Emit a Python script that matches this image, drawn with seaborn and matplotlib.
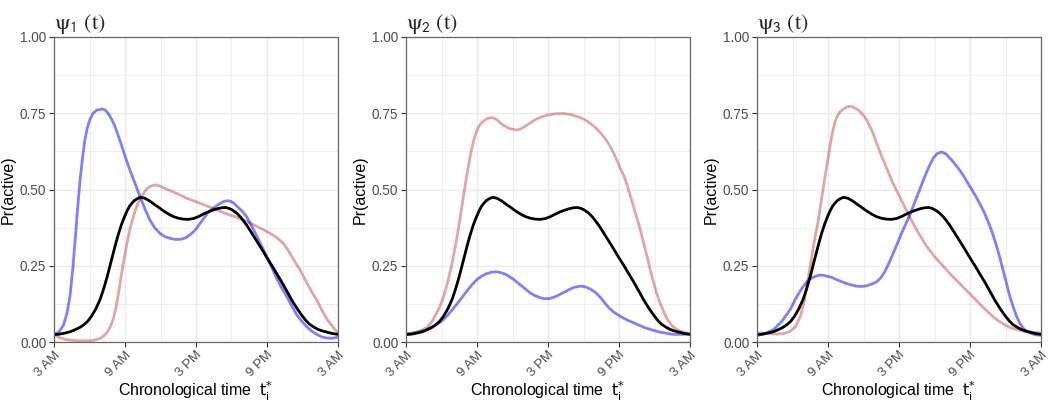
import matplotlib
matplotlib.use("Agg")
import matplotlib.pyplot as plt
import seaborn as sns
import pandas as pd
from matplotlib.ticker import FixedLocator

# ---------------- data (hours since midnight; 3 -> 3 AM, 27 -> 3 AM next day) ----------------
tick_hours = [3, 9, 15, 21, 27]
tick_labels = ["3 AM", "9 AM", "3 PM", "9 PM", "3 AM"]
minor_hours = [6, 12, 18, 24]
panel_titles = [r"$\mathrm{\psi}_{\mathsf{1}}\ \mathrm{(t)}$",
                r"$\mathrm{\psi}_{\mathsf{2}}\ \mathrm{(t)}$",
                r"$\mathrm{\psi}_{\mathsf{3}}\ \mathrm{(t)}$"]

# overall (black) curve, identical in all panels
overall_h = [3, 3.5, 4, 4.4, 4.77, 5.15, 5.5, 5.85, 6.18, 6.55, 6.9, 7.2, 7.5, 7.85, 8.2, 8.45,
             8.72, 8.95, 9.2, 9.4, 9.6, 9.8, 10.0, 10.2, 10.41, 10.7, 11.1, 11.45, 11.82, 12.25,
             12.7, 13.1, 13.5, 13.9, 14.35, 14.8, 15.2, 15.6, 16.04, 16.4, 16.8, 17.15, 17.5,
             17.8, 18.1, 18.45, 18.8, 19.25, 19.7, 20.1, 20.55, 21.0, 21.45, 21.85, 22.24, 22.7,
             23.1, 23.5, 23.93, 24.3, 24.6, 25.0, 25.34, 25.7, 26.1, 26.5, 27]
overall_v = [0.024, 0.026, 0.03, 0.034, 0.04, 0.047, 0.056, 0.068, 0.085, 0.11, 0.14, 0.175,
             0.215, 0.268, 0.32, 0.355, 0.387, 0.41, 0.432, 0.446, 0.456, 0.464, 0.469, 0.473,
             0.474, 0.471, 0.462, 0.452, 0.442, 0.43, 0.419, 0.411, 0.406, 0.403, 0.402, 0.405,
             0.411, 0.419, 0.427, 0.432, 0.437, 0.44, 0.441, 0.438, 0.432, 0.422, 0.408, 0.385,
             0.358, 0.333, 0.305, 0.276, 0.248, 0.222, 0.197, 0.165, 0.137, 0.112, 0.088, 0.07,
             0.058, 0.048, 0.041, 0.036, 0.032, 0.028, 0.025]

# panel 1
p1_blue_h = [3, 3.4, 3.8, 4.1, 4.35, 4.6, 4.8, 5.0, 5.2, 5.4, 5.6, 5.8, 6.04, 6.3, 6.6, 7.09,
             7.35, 7.6, 7.85, 8.1, 8.58, 9.0, 9.4, 9.85, 10.27, 10.7, 11.1, 11.5, 11.96, 12.4,
             12.9, 13.3, 13.79, 14.2, 14.6, 15.0, 15.34, 15.7, 16.05, 16.4, 16.75, 17.3, 17.6,
             17.88, 18.2, 18.6, 18.95, 19.29, 19.7, 20.1, 20.55, 20.98, 21.4, 21.8, 22.2, 22.67,
             23.1, 23.5, 23.9, 24.36, 24.8, 25.2, 25.6, 26.05, 26.5, 27]
p1_blue_v = [0.026, 0.032, 0.055, 0.095, 0.15, 0.245, 0.34, 0.44, 0.53, 0.60, 0.66, 0.70, 0.73,
             0.75, 0.76, 0.764, 0.76, 0.748, 0.732, 0.712, 0.66, 0.61, 0.565, 0.52, 0.477, 0.435,
             0.40, 0.375, 0.356, 0.345, 0.339, 0.336, 0.337, 0.343, 0.355, 0.37, 0.389, 0.408,
             0.425, 0.437, 0.447, 0.46, 0.463, 0.462, 0.455, 0.44, 0.427, 0.41, 0.38, 0.35,
             0.315, 0.28, 0.245, 0.21, 0.18, 0.149, 0.118, 0.09, 0.07, 0.05, 0.035, 0.025,
             0.017, 0.013, 0.012, 0.016]
p1_red_h = [3, 3.5, 4, 4.6, 5.2, 6.0, 6.5, 6.89, 7.2, 7.5, 7.75, 8.01, 8.25, 8.45, 8.65, 8.86,
            9.1, 9.3, 9.5, 9.7, 9.9, 10.1, 10.3, 10.55, 10.8, 11.0, 11.25, 11.54, 11.9, 12.4,
            12.9, 13.37, 14.3, 15.34, 16.5, 17.6, 18.5, 19.3, 20.2, 20.98, 21.4, 21.7, 22.05,
            22.38, 22.75, 23.1, 23.45, 23.8, 24.15, 24.5, 24.85, 25.2, 25.5, 25.8, 26.05, 26.33,
            26.65, 27]
p1_red_v = [0.024, 0.014, 0.008, 0.005, 0.004, 0.004, 0.007, 0.012, 0.02, 0.032, 0.05, 0.075,
            0.115, 0.16, 0.21, 0.258, 0.31, 0.35, 0.383, 0.41, 0.435, 0.455, 0.472, 0.487, 0.5,
            0.507, 0.512, 0.515, 0.512, 0.503, 0.495, 0.487, 0.47, 0.455, 0.437, 0.42, 0.408,
            0.395, 0.378, 0.362, 0.353, 0.345, 0.335, 0.323, 0.303, 0.28, 0.258, 0.236, 0.21,
            0.185, 0.16, 0.138, 0.115, 0.093, 0.076, 0.061, 0.045, 0.03]

# panel 2
p2_blue_h = [3, 3.5, 4, 4.4, 4.77, 5.15, 5.5, 5.85, 6.18, 6.55, 6.9, 7.25, 7.59, 7.95, 8.3,
             8.65, 9.0, 9.4, 9.8, 10.25, 10.69, 11.05, 11.4, 11.75, 12.1, 12.45, 12.8, 13.15,
             13.5, 13.9, 14.3, 14.7, 15.06, 15.45, 15.8, 16.2, 16.6, 16.9, 17.2, 17.55, 17.87,
             18.2, 18.5, 18.85, 19.14, 19.5, 19.8, 20.15, 20.55, 21.0, 21.4, 21.8, 22.24, 22.7,
             23.1, 23.5, 23.93, 24.4, 24.8, 25.2, 25.62, 26.3, 27]
p2_blue_v = [0.026, 0.028, 0.032, 0.036, 0.041, 0.048, 0.055, 0.064, 0.074, 0.089, 0.105,
             0.122, 0.139, 0.157, 0.175, 0.191, 0.205, 0.216, 0.224, 0.229, 0.23, 0.227, 0.222,
             0.214, 0.205, 0.194, 0.183, 0.172, 0.161, 0.152, 0.146, 0.142, 0.142, 0.146, 0.152,
             0.16, 0.168, 0.174, 0.179, 0.182, 0.183, 0.18, 0.175, 0.167, 0.158, 0.143, 0.128,
             0.112, 0.098, 0.087, 0.078, 0.07, 0.063, 0.055, 0.048, 0.043, 0.038, 0.033, 0.03,
             0.027, 0.025, 0.025, 0.026]
p2_red_h = [3, 3.5, 4, 4.4, 4.77, 5.15, 5.5, 5.85, 6.18, 6.55, 6.9, 7.25, 7.59, 7.9, 8.2, 8.45,
            8.72, 8.9, 9.1, 9.3, 9.56, 9.9, 10.27, 10.55, 10.8, 11.05, 11.25, 11.8, 12.38, 12.75,
            13.1, 13.45, 13.79, 14.3, 14.92, 15.6, 16.32, 17.0, 17.73, 18.15, 18.5, 18.85, 19.14,
            19.5, 19.9, 20.25, 20.55, 20.85, 21.1, 21.4, 21.68, 21.95, 22.2, 22.5, 22.8, 23.1,
            23.4, 23.65, 23.93, 24.2, 24.5, 24.8, 25.06, 25.35, 25.6, 25.9, 26.18, 26.6, 27]
p2_red_v = [0.026, 0.029, 0.034, 0.04, 0.048, 0.064, 0.088, 0.115, 0.15, 0.2, 0.26, 0.33, 0.41,
            0.49, 0.56, 0.615, 0.66, 0.685, 0.703, 0.715, 0.725, 0.733, 0.736, 0.732, 0.725,
            0.716, 0.71, 0.699, 0.695, 0.7, 0.708, 0.717, 0.726, 0.736, 0.744, 0.748, 0.749,
            0.745, 0.736, 0.728, 0.719, 0.708, 0.698, 0.683, 0.663, 0.642, 0.619, 0.594, 0.57,
            0.546, 0.515, 0.48, 0.448, 0.408, 0.368, 0.322, 0.276, 0.235, 0.194, 0.158, 0.125,
            0.097, 0.076, 0.06, 0.049, 0.041, 0.036, 0.031, 0.027]

# panel 3
p3_blue_h = [3, 3.7, 4.4, 5.1, 5.8, 6.35, 6.92, 7.4, 7.9, 8.3, 8.6, 9.3, 10.0, 10.7, 11.4,
             11.85, 12.3, 12.7, 13.1, 13.45, 13.8, 14.15, 14.5, 14.85, 15.2, 15.55, 15.9, 16.25,
             16.6, 16.95, 17.3, 17.6, 17.9, 18.2, 18.59, 18.95, 19.3, 19.7, 20.1, 20.45, 20.8,
             21.15, 21.5, 21.85, 22.2, 22.55, 22.9, 23.2, 23.5, 23.8, 24.1, 24.35, 24.63, 24.9,
             25.2, 25.5, 25.76, 26.1, 26.5, 27]
p3_blue_v = [0.021, 0.028, 0.041, 0.068, 0.106, 0.148, 0.183, 0.205, 0.215, 0.219, 0.219, 0.212,
             0.20, 0.19, 0.183, 0.182, 0.185, 0.19, 0.197, 0.21, 0.23, 0.258, 0.29, 0.322, 0.355,
             0.385, 0.415, 0.45, 0.485, 0.52, 0.554, 0.58, 0.603, 0.617, 0.623, 0.617, 0.603,
             0.585, 0.565, 0.545, 0.522, 0.50, 0.477, 0.452, 0.425, 0.393, 0.357, 0.32, 0.28,
             0.235, 0.19, 0.152, 0.118, 0.088, 0.062, 0.045, 0.036, 0.029, 0.024, 0.022]
p3_red_h = [3, 3.8, 4.7, 5.3, 5.8, 6.25, 6.66, 6.95, 7.2, 7.5, 7.77, 8.0, 8.19, 8.4, 8.58, 8.8,
            9.0, 9.2, 9.42, 9.65, 9.85, 10.05, 10.27, 10.55, 10.83, 11.15, 11.5, 11.9, 12.25,
            12.8, 13.37, 13.95, 14.5, 15.2, 15.9, 16.6, 17.3, 18.0, 18.7, 19.4, 20.1, 20.8, 21.5,
            22.2, 22.9, 23.3, 23.7, 24.1, 24.5, 25.0, 25.5, 26.2, 27]
p3_red_v = [0.03, 0.028, 0.026, 0.028, 0.035, 0.05, 0.084, 0.125, 0.183, 0.25, 0.314, 0.362,
            0.40, 0.455, 0.50, 0.555, 0.60, 0.65, 0.695, 0.728, 0.745, 0.756, 0.763, 0.77, 0.773,
            0.77, 0.762, 0.748, 0.73, 0.685, 0.625, 0.57, 0.52, 0.465, 0.41, 0.36, 0.316, 0.28,
            0.25, 0.22, 0.193, 0.165, 0.138, 0.11, 0.085, 0.072, 0.062, 0.053, 0.046, 0.04,
            0.036, 0.032, 0.03]

panels = [
    (p1_blue_h, p1_blue_v, p1_red_h, p1_red_v),
    (p2_blue_h, p2_blue_v, p2_red_h, p2_red_v),
    (p3_blue_h, p3_blue_v, p3_red_h, p3_red_v),
]

# ---------------- style ----------------
sns.set_theme(style="white")
plt.rcParams["font.family"] = ["Liberation Sans", "DejaVu Sans"]

BLUE = (0.0, 0.0, 1.0, 0.5)
RED = (0.698, 0.133, 0.133, 0.4)
GRID = "#EBEBEB"

fig = plt.figure(figsize=(10.5, 4.05), dpi=100)
lefts = [54 / 1050, 406 / 1050, 757 / 1050]
width = 284 / 1050
bottom = 1 - 342 / 405
height = (342 - 37) / 405

for i, (bh, bv, rh, rv) in enumerate(panels):
    ax = fig.add_axes([lefts[i], bottom, width, height])
    df_red = pd.DataFrame({"hour": rh, "p": rv})
    df_blue = pd.DataFrame({"hour": bh, "p": bv})
    df_all = pd.DataFrame({"hour": overall_h, "p": overall_v})
    kw = dict(lw=2.0, ax=ax, sort=False, solid_joinstyle="round", solid_capstyle="round")
    sns.lineplot(data=df_red, x="hour", y="p", color=RED, **kw)
    sns.lineplot(data=df_blue, x="hour", y="p", color=BLUE, **kw)
    sns.lineplot(data=df_all, x="hour", y="p", color="black", **kw)

    ax.set_xlim(3, 27)
    ax.set_ylim(0, 1)
    ax.xaxis.set_major_locator(FixedLocator(tick_hours))
    ax.set_xticklabels(tick_labels, rotation=45, ha="right", rotation_mode="anchor")
    ax.xaxis.set_minor_locator(FixedLocator(minor_hours))
    ax.set_yticks([0, 0.25, 0.5, 0.75, 1.0])
    ax.set_yticklabels(["0.00", "0.25", "0.50", "0.75", "1.00"])
    ax.yaxis.set_minor_locator(FixedLocator([0.125, 0.375, 0.625, 0.875]))
    ax.grid(True, which="major", color=GRID, lw=1.0)
    ax.grid(True, which="minor", color=GRID, lw=0.6)
    ax.set_axisbelow(True)
    ax.tick_params(axis="both", which="major", length=3.5, width=0.8, color="#333333",
                   labelsize=9.8, labelcolor="#4D4D4D", pad=2, direction="out",
                   bottom=True, left=True)
    ax.tick_params(axis="x", which="major", labelsize=9.5, pad=1.5)
    ax.tick_params(axis="both", which="minor", length=0)
    for sp in ax.spines.values():
        sp.set_color("#666666")
        sp.set_linewidth(0.9)
    ax.set_ylabel("Pr(active)", fontsize=11.5, color="black", labelpad=3)
    ax.set_xlabel(r"Chronological time  $\mathrm{t}_{\mathrm{i}}^{*}$", fontsize=11.5,
                  color="black", labelpad=0, math_fontfamily="dejavusans")
    ax.set_title(panel_titles[i], loc="left", fontsize=16, pad=6, math_fontfamily="stix")

fig.savefig("out.png", dpi=100)
